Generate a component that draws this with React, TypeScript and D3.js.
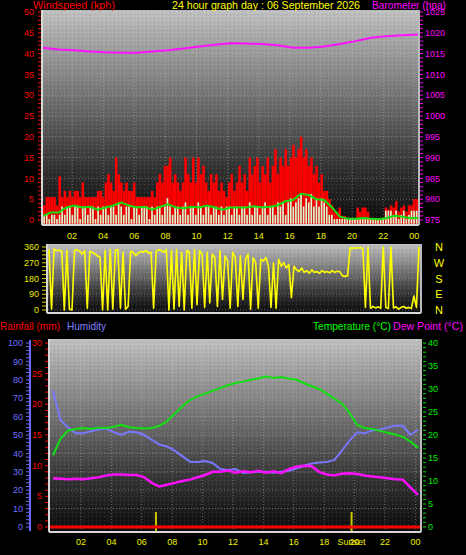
import React from "react";
import * as d3 from "d3";

const hourTicks = [2, 4, 6, 8, 10, 12, 14, 16, 18, 20, 22, 24];
const hourLabels = ["02", "04", "06", "08", "10", "12", "14", "16", "18", "20", "22", "00"];
const windMajor = [0, 5, 10, 15, 20, 25, 30, 35, 40, 45, 50];
const baroMajor = [975, 980, 985, 990, 995, 1000, 1005, 1010, 1015, 1020, 1025];
const dirTicks = [0, 90, 180, 270, 360];
const compass = ["N", "E", "S", "W", "N"];
const humTicks = [0, 10, 20, 30, 40, 50, 60, 70, 80, 90, 100];
const rainTicks = [0, 5, 10, 15, 20, 25, 30];
const tempTicks = [0, 5, 10, 15, 20, 25, 30, 35, 40];
const sunEvents = [{ label: "", hour: 6.93 }, { label: "Sunset", hour: 19.8 }];

// 10-minute wind gust (kph)
const windGust = [
  3.5, 5.5, 5.5, 5.5, 5.5, 3.5, 10.5, 5.5, 7, 5.5, 7, 5.5, 7, 7, 5.5, 9,
  5.5, 5.5, 5.5, 5.5, 5.5, 7, 7, 5.5, 9, 11, 9, 7, 15, 11, 9, 7,
  9, 7, 7, 9, 5.5, 5.5, 5.5, 5.5, 5.5, 5.5, 7, 5.5, 9, 11, 9, 13,
  13, 15, 9, 11, 9, 7, 9, 15, 11, 9, 15, 9, 15, 11, 13, 9, 7, 11,
  9, 11, 7, 9, 7, 5.5, 9, 11, 7, 9, 13, 9, 11, 7, 15, 11, 13, 15,
  9, 13, 11, 15, 9, 13, 17, 11, 15, 13, 17, 13, 15, 18, 15, 17, 20, 15,
  17, 13, 15, 11, 13, 9, 11, 7, 7, 5, 3.5, 2, 2, 3, 1, 1,
  0.5, 0.5, 0.5, 0.5, 3, 2, 3, 3, 2, 0.5, 0.5, 0.5, 0.5, 0.5, 0.5, 3,
  2.5, 3.5, 3, 4.5, 2, 3, 3.5, 2, 3.5, 3.5, 5, 5,
];
// 10-minute wind speed (kph)
const windSpeed = [
  1, 1, 0, 1, 1, 0, 1, 3, 1, 3, 3, 1, 3, 3, 0, 3,
  3, 1, 3, 3, 0, 3, 1, 3, 3, 1, 3, 3, 1, 4, 3, 1,
  3, 3, 0, 3, 3, 1, 3, 3, 3, 0, 3, 1, 3, 3, 1, 3,
  5, 3, 1, 3, 3, 1, 3, 4, 1, 3, 3, 1, 4, 3, 1, 3,
  3, 1, 3, 3, 1, 3, 1, 3, 3, 1, 3, 3, 1, 3, 3, 1,
  4, 1, 3, 3, 1, 3, 4, 1, 3, 3, 1, 4, 3, 4, 1, 4,
  5, 3, 4, 5, 6, 3, 5, 4, 6, 3, 5, 3, 5, 4, 3, 1,
  1, 0, 0, 0, 0, 0, 0, 0, 0, 0, 0, 0, 0, 0, 0, 0,
  0, 0, 0, 0, 0, 2, 2, 2, 1, 2, 0, 1, 2, 0, 1, 2, 2, 2,
];
// 30-minute average wind (kph)
const windAvg = [
  1, 1.8, 1.8, 3, 3.5, 3, 3.2, 2.5, 3, 3.5, 4.2, 3.5, 3, 3.2, 2.5, 3.2,
  3.8, 3, 2.8, 3.2, 3, 3.5, 3, 2.5, 3, 3, 3, 3.3, 3, 3.2, 3.5, 4.5,
  4.8, 6.3, 6, 5, 4.8, 3, 0.8, 0.3, 0.3, 0.5, 0.3, 0.2, 0.5, 1, 0.8, 0.5, 0.5,
];
// hourly barometer (hPa)
const barometer = [
  1016.4, 1016.0, 1015.8, 1015.5, 1015.3, 1015.2, 1015.2, 1015.5, 1015.8,
  1016.2, 1016.7, 1017.1, 1017.5, 1017.4, 1017.3, 1017.0, 1016.4, 1016.4,
  1016.7, 1017.3, 1018.0, 1018.8, 1019.2, 1019.4, 1019.6,
];
// 10-minute wind direction (deg)
const windDir = [
  345, 5, 348, 340, 342, 338, 0, 340, 5, 0, 340, 345, 335, 320, 338, 10,
  335, 330, 320, 310, 300, 0, 340, 0, 345, 5, 342, 345, 10, 330, 5, 20,
  335, 330, 310, 325, 335, 330, 340, 325, 330, 10, 335, 345, 340, 330, 345, 0,
  340, 5, 345, 20, 330, 0, 340, 330, 10, 345, 30, 340, 320, 15, 330, 40,
  320, 300, 20, 340, 60, 310, 280, 10, 330, 300, 20, 310, 60, 290, 320, 5,
  300, 270, 10, 290, 280, 300, 250, 15, 270, 10, 290, 250, 270, 240, 260, 70,
  250, 230, 220, 240, 215, 225, 210, 230, 215, 220, 210, 225, 215, 220, 212, 225,
  215, 222, 218, 195, 192, 195, 355, 352, 356, 354, 355, 353, 15, 360, 10, 20,
  12, 18, 10, 360, 15, 8, 360, 12, 18, 5, 15, 20, 10, 15, 8, 80, 15, 360,
];
// 30-minute temperature, humidity, dew point, rainfall
const temperature = [
  15.6, 19.2, 21.0, 21.3, 21.5, 21.3, 21.6, 21.5, 21.8, 22.2, 21.7, 21.5, 21.4,
  21.5, 22.0, 23.0, 24.6, 26.2, 27.6, 28.4, 29.0, 29.6, 30.2, 30.8, 31.3, 31.6,
  32.0, 32.3, 32.7, 32.4, 32.6, 32.3, 32.0, 31.3, 30.6, 30.0, 29.0, 27.9, 26.8,
  24.8, 22.2, 21.5, 21.3, 20.9, 20.5, 20.1, 19.6, 18.6, 17.2,
];
const humidity = [
  74, 58, 54, 51, 51, 52, 53, 53.5, 51.5, 50.2, 51.8, 51.5, 50, 47.3, 44.8,
  43.8, 41.5, 38.5, 35.5, 35.3, 35.8, 34.8, 31.5, 31, 31.5, 29.3, 29.8, 30, 30,
  29.5, 30, 30.5, 31.8, 33.3, 34.5, 35, 35.3, 36.5, 41.5, 47, 51.5, 51, 52.5,
  53, 54, 55.2, 55, 50, 53,
];
const dewPoint = [
  10.6, 10.5, 10.4, 10.5, 10.4, 10.6, 10.8, 11.2, 11.4, 11.4, 11.3, 11.3, 10.8,
  9.6, 8.8, 9.2, 9.6, 10, 10.3, 10.8, 11.3, 12, 12, 12.3, 11.8, 12.1, 11.9, 12.2,
  11.8, 12.1, 11.7, 12.6, 13.1, 13.3, 13.2, 12, 11.4, 11.2, 11.6, 11.7, 11.5,
  11.2, 11.0, 10.8, 10.6, 10.4, 10.3, 8.6, 7,
];
const rainfall = [0, 0, 0, 0, 0, 0, 0, 0, 0, 0, 0, 0, 0, 0, 0, 0, 0, 0, 0, 0, 0, 0, 0, 0, 0];

const FONT = "'Liberation Sans', Arial, sans-serif";

function Panel({ id, x0, x1, y0, y1 }: { id: string; x0: number; x1: number; y0: number; y1: number }) {
  return (
    <g>
      <rect x={x0} y={y0} width={x1 - x0} height={y1 - y0} fill={`url(#${id})`} />
      <rect x={x0} y={y0} width={x1 - x0} height={y1 - y0} fill="url(#dith)" />
    </g>
  );
}

function Frame({ x0, x1, y0, y1 }: { x0: number; x1: number; y0: number; y1: number }) {
  return (
    <g stroke="#d8d8d8" strokeWidth={2} fill="none">
      <line x1={x0 - 1} y1={y0} x2={x0 - 1} y2={y1 + 1} />
      <line x1={x0 - 1} y1={y1 + 1} x2={x1 + 1} y2={y1 + 1} />
      <line x1={x1 + 1} y1={y0} x2={x1 + 1} y2={y1 + 1} stroke="#bbbbbb" />
    </g>
  );
}

function Title({ x, y, w, fill, children }: { x: number; y: number; w: number; fill: string; children: string }) {
  return (
    <text x={x} y={y} fontSize={11} fill={fill} textLength={w} lengthAdjust="spacingAndGlyphs">
      {children}
    </text>
  );
}

export default function App() {
  // ---------- top panel ----------
  const T = { x0: 43, x1: 418, y0: 10, y1: 224 };
  const xHourTop = d3.scaleLinear().domain([0, 24]).range([41, 414.3]);
  const xWind = d3.scaleLinear().domain([0, windGust.length - 1]).range([43, 415.5]);
  const xAvg = d3.scaleLinear().domain([0, windAvg.length - 1]).range([43, 418]);
  const xBaro = d3.scaleLinear().domain([0, barometer.length - 1]).range([43, 418]);
  const yWind = d3.scaleLinear().domain([0, 50]).range([220, 12]);
  const yBaro = d3.scaleLinear().domain([975, 1025]).range([220, 12]);
  const bw = xWind(1) - xWind(0);
  const avgLine = d3.line<number>().x((_, i) => xAvg(i)).y((d) => yWind(d));
  const baroLine = d3.line<number>().x((_, i) => xBaro(i)).y((d) => yBaro(d));

  // ---------- middle panel ----------
  const M = { x0: 48, x1: 420, y0: 244, y1: 312 };
  const xDir = d3.scaleLinear().domain([0, windDir.length - 1]).range([49, 419]);
  const yDir = d3.scaleLinear().domain([0, 360]).range([310, 247]);
  const dirLine = d3.line<number>().x((_, i) => xDir(i)).y((d) => yDir(d));

  // ---------- bottom panel ----------
  const B = { x0: 50, x1: 420, y0: 339, y1: 531 };
  const xHourBot = d3.scaleLinear().domain([0, 24]).range([50.6, 415.4]);
  const xT = d3.scaleLinear().domain([0, temperature.length - 1]).range([53, 418]);
  const xRain = d3.scaleLinear().domain([0, rainfall.length - 1]).range([50, 420]);
  const yHum = d3.scaleLinear().domain([0, 100]).range([527, 343]);
  const yRain = d3.scaleLinear().domain([0, 30]).range([527, 343]);
  const yTemp = d3.scaleLinear().domain([0, 40]).range([527, 343]);
  const tLine = d3.line<number>().x((_, i) => xT(i)).y((d) => yTemp(d));
  const hLine = d3.line<number>().x((_, i) => xT(i)).y((d) => yHum(d));
  const rLine = d3.line<number>().x((_, i) => xRain(i)).y((d) => yRain(d));

  const grid = { stroke: "#c8c8c8", strokeOpacity: 0.45, strokeDasharray: "1,2", strokeWidth: 1 };

  return (
    <svg
      width={466}
      height={555}
      style={{ position: "absolute", left: 0, top: 0, background: "#000" }}
      fontFamily={FONT}
    >
      <defs>
        {["gT", "gM", "gB"].map((id) => (
          <linearGradient key={id} id={id} x1="0" y1="0" x2="0" y2="1">
            <stop offset="0" stopColor="#c0c0c0" />
            <stop offset="0.45" stopColor="#6a6a6a" />
            <stop offset="0.75" stopColor="#303030" />
            <stop offset="1" stopColor="#0c0c0c" />
          </linearGradient>
        ))}
        <pattern id="dith" width="4" height="4" patternUnits="userSpaceOnUse">
          <rect x="0" y="0" width="1" height="1" fill="#ffffff" opacity="0.12" />
          <rect x="2" y="2" width="1" height="1" fill="#000000" opacity="0.12" />
        </pattern>
      </defs>
      <rect x={0} y={0} width={466} height={555} fill="#000" />

      {/* ===== TOP PANEL ===== */}
      <Panel id="gT" {...T} />
      {windMajor.map((v) => (
        <line key={v} x1={T.x0} x2={T.x1} y1={yWind(v)} y2={yWind(v)} {...grid} />
      ))}
      {hourTicks.map((h) => (
        <line key={h} x1={xHourTop(h)} x2={xHourTop(h)} y1={T.y0} y2={T.y1} {...grid} />
      ))}
      {windGust.map((v, i) => (
        <rect key={i} x={xWind(i)} y={yWind(v)} width={bw} height={yWind(-1) - yWind(v)} fill="#ff0000" />
      ))}
      {windSpeed.map((v, i) => (
        <rect key={i} x={xWind(i) + 0.3} y={yWind(v) - 1} width={bw - 0.9} height={yWind(-0.9) - yWind(v) + 1} fill="#d8f8d0" />
      ))}
      <path d={avgLine(windAvg) || ""} fill="none" stroke="#10e010" strokeWidth={2} />
      <path d={baroLine(barometer) || ""} fill="none" stroke="#ff10ff" strokeWidth={2} />
      <Frame {...T} />
      {d3.range(0, 51).map((v) => (
        <line key={v} x1={38} x2={41} y1={yWind(v)} y2={yWind(v)} stroke="#ff0000" strokeWidth={1} />
      ))}
      {windMajor.map((v) => (
        <text key={v} x={34} y={yWind(v)} dy="0.35em" textAnchor="end" fontSize={9} fill="#ff0000">{v}</text>
      ))}
      {d3.range(975, 1026).map((v) => (
        <line key={v} x1={420} x2={423} y1={yBaro(v)} y2={yBaro(v)} stroke="#ff00ff" strokeWidth={1} />
      ))}
      {baroMajor.map((v) => (
        <text key={v} x={425} y={yBaro(v)} dy="0.35em" fontSize={9} fill="#ff00ff">{v}</text>
      ))}
      {hourTicks.map((h, i) => (
        <text key={h} x={xHourTop(h)} y={239} textAnchor="middle" fontSize={9} fill="#f0f000">{hourLabels[i]}</text>
      ))}
      <Title x={33} y={9} w={82} fill="#ff0000">Windspeed (kph)</Title>
      <Title x={172} y={9} w={188} fill="#ffff00">24 hour graph day : 06 September 2026</Title>
      <Title x={372} y={9} w={74} fill="#ff00ff">Barometer (hpa)</Title>

      {/* ===== MIDDLE PANEL ===== */}
      <Panel id="gM" {...M} />
      {dirTicks.map((v) => (
        <line key={v} x1={M.x0} x2={M.x1} y1={yDir(v)} y2={yDir(v)} {...grid} />
      ))}
      <path d={dirLine(windDir) || ""} fill="none" stroke="#ffff00" strokeWidth={1.6} strokeLinejoin="round" />
      <Frame {...M} />
      {d3.range(0, 361, 22.5).map((v) => (
        <line key={v} x1={42} x2={46} y1={yDir(v)} y2={yDir(v)} stroke="#d0d000" strokeWidth={1} />
      ))}
      {dirTicks.map((v) => (
        <text key={v} x={39} y={yDir(v)} dy="0.35em" textAnchor="end" fontSize={9} fill="#e8e800">{v}</text>
      ))}
      {dirTicks.map((v, i) => (
        <text key={v} x={439} y={yDir(v)} dy="0.38em" textAnchor="middle" fontSize={11} fill="#ffff00">{compass[i]}</text>
      ))}

      {/* ===== BOTTOM PANEL ===== */}
      <Title x={0} y={330} w={60} fill="#ff0000">Rainfall (mm)</Title>
      <Title x={67} y={330} w={39} fill="#8080ff">Humidity</Title>
      <Title x={313} y={330} w={78} fill="#00ff00">Temperature (°C)</Title>
      <Title x={393} y={330} w={70} fill="#ff00ff">Dew Point (°C)</Title>
      <Panel id="gB" {...B} />
      {humTicks.map((v) => (
        <line key={v} x1={B.x0} x2={B.x1} y1={yHum(v)} y2={yHum(v)} {...grid} />
      ))}
      {hourTicks.map((h) => (
        <line key={h} x1={xHourBot(h)} x2={xHourBot(h)} y1={B.y0} y2={B.y1} {...grid} />
      ))}
      {sunEvents.map((s) => (
        <line key={s.hour} x1={xHourBot(s.hour)} x2={xHourBot(s.hour)} y1={512} y2={531} stroke="#c8c800" strokeWidth={2} />
      ))}
      <path d={rLine(rainfall) || ""} fill="none" stroke="#ff0000" strokeWidth={3} />
      <path d={hLine(humidity) || ""} fill="none" stroke="#7878ff" strokeWidth={2} />
      <path d={tLine(temperature) || ""} fill="none" stroke="#10e010" strokeWidth={2} />
      <path d={tLine(dewPoint) || ""} fill="none" stroke="#ff10ff" strokeWidth={2.5} />
      <Frame {...B} />
      <line x1={30} x2={30} y1={340} y2={531} stroke="#6a6aff" strokeWidth={2} />
      {d3.range(0, 101, 2).map((v) => (
        <line key={v} x1={26} x2={29} y1={yHum(v)} y2={yHum(v)} stroke="#6a6aff" strokeWidth={1} />
      ))}
      {humTicks.map((v) => (
        <text key={v} x={23} y={yHum(v)} dy="0.35em" textAnchor="end" fontSize={9} fill="#7070ff">{v}</text>
      ))}
      {d3.range(0, 31).map((v) => (
        <line key={v} x1={45} x2={48} y1={yRain(v)} y2={yRain(v)} stroke="#ff0000" strokeWidth={1} />
      ))}
      {rainTicks.map((v) => (
        <text key={v} x={42} y={yRain(v)} dy="0.35em" textAnchor="end" fontSize={9} fill="#ff0000">{v}</text>
      ))}
      {d3.range(0, 41).map((v) => (
        <line key={v} x1={423} x2={426} y1={yTemp(v)} y2={yTemp(v)} stroke="#00e000" strokeWidth={1} />
      ))}
      {tempTicks.map((v) => (
        <text key={v} x={428} y={yTemp(v)} dy="0.35em" fontSize={9} fill="#00ee00">{v}</text>
      ))}
      {hourTicks.map((h, i) => (
        <text key={h} x={xHourBot(h)} y={545} textAnchor="middle" fontSize={9} fill="#f0f000">{hourLabels[i]}</text>
      ))}
      {sunEvents.filter((s) => s.label).map((s) => (
        <text key={s.label} x={xHourBot(s.hour)} y={545} textAnchor="middle" fontSize={9} fill="#f0f000">{s.label}</text>
      ))}
    </svg>
  );
}
